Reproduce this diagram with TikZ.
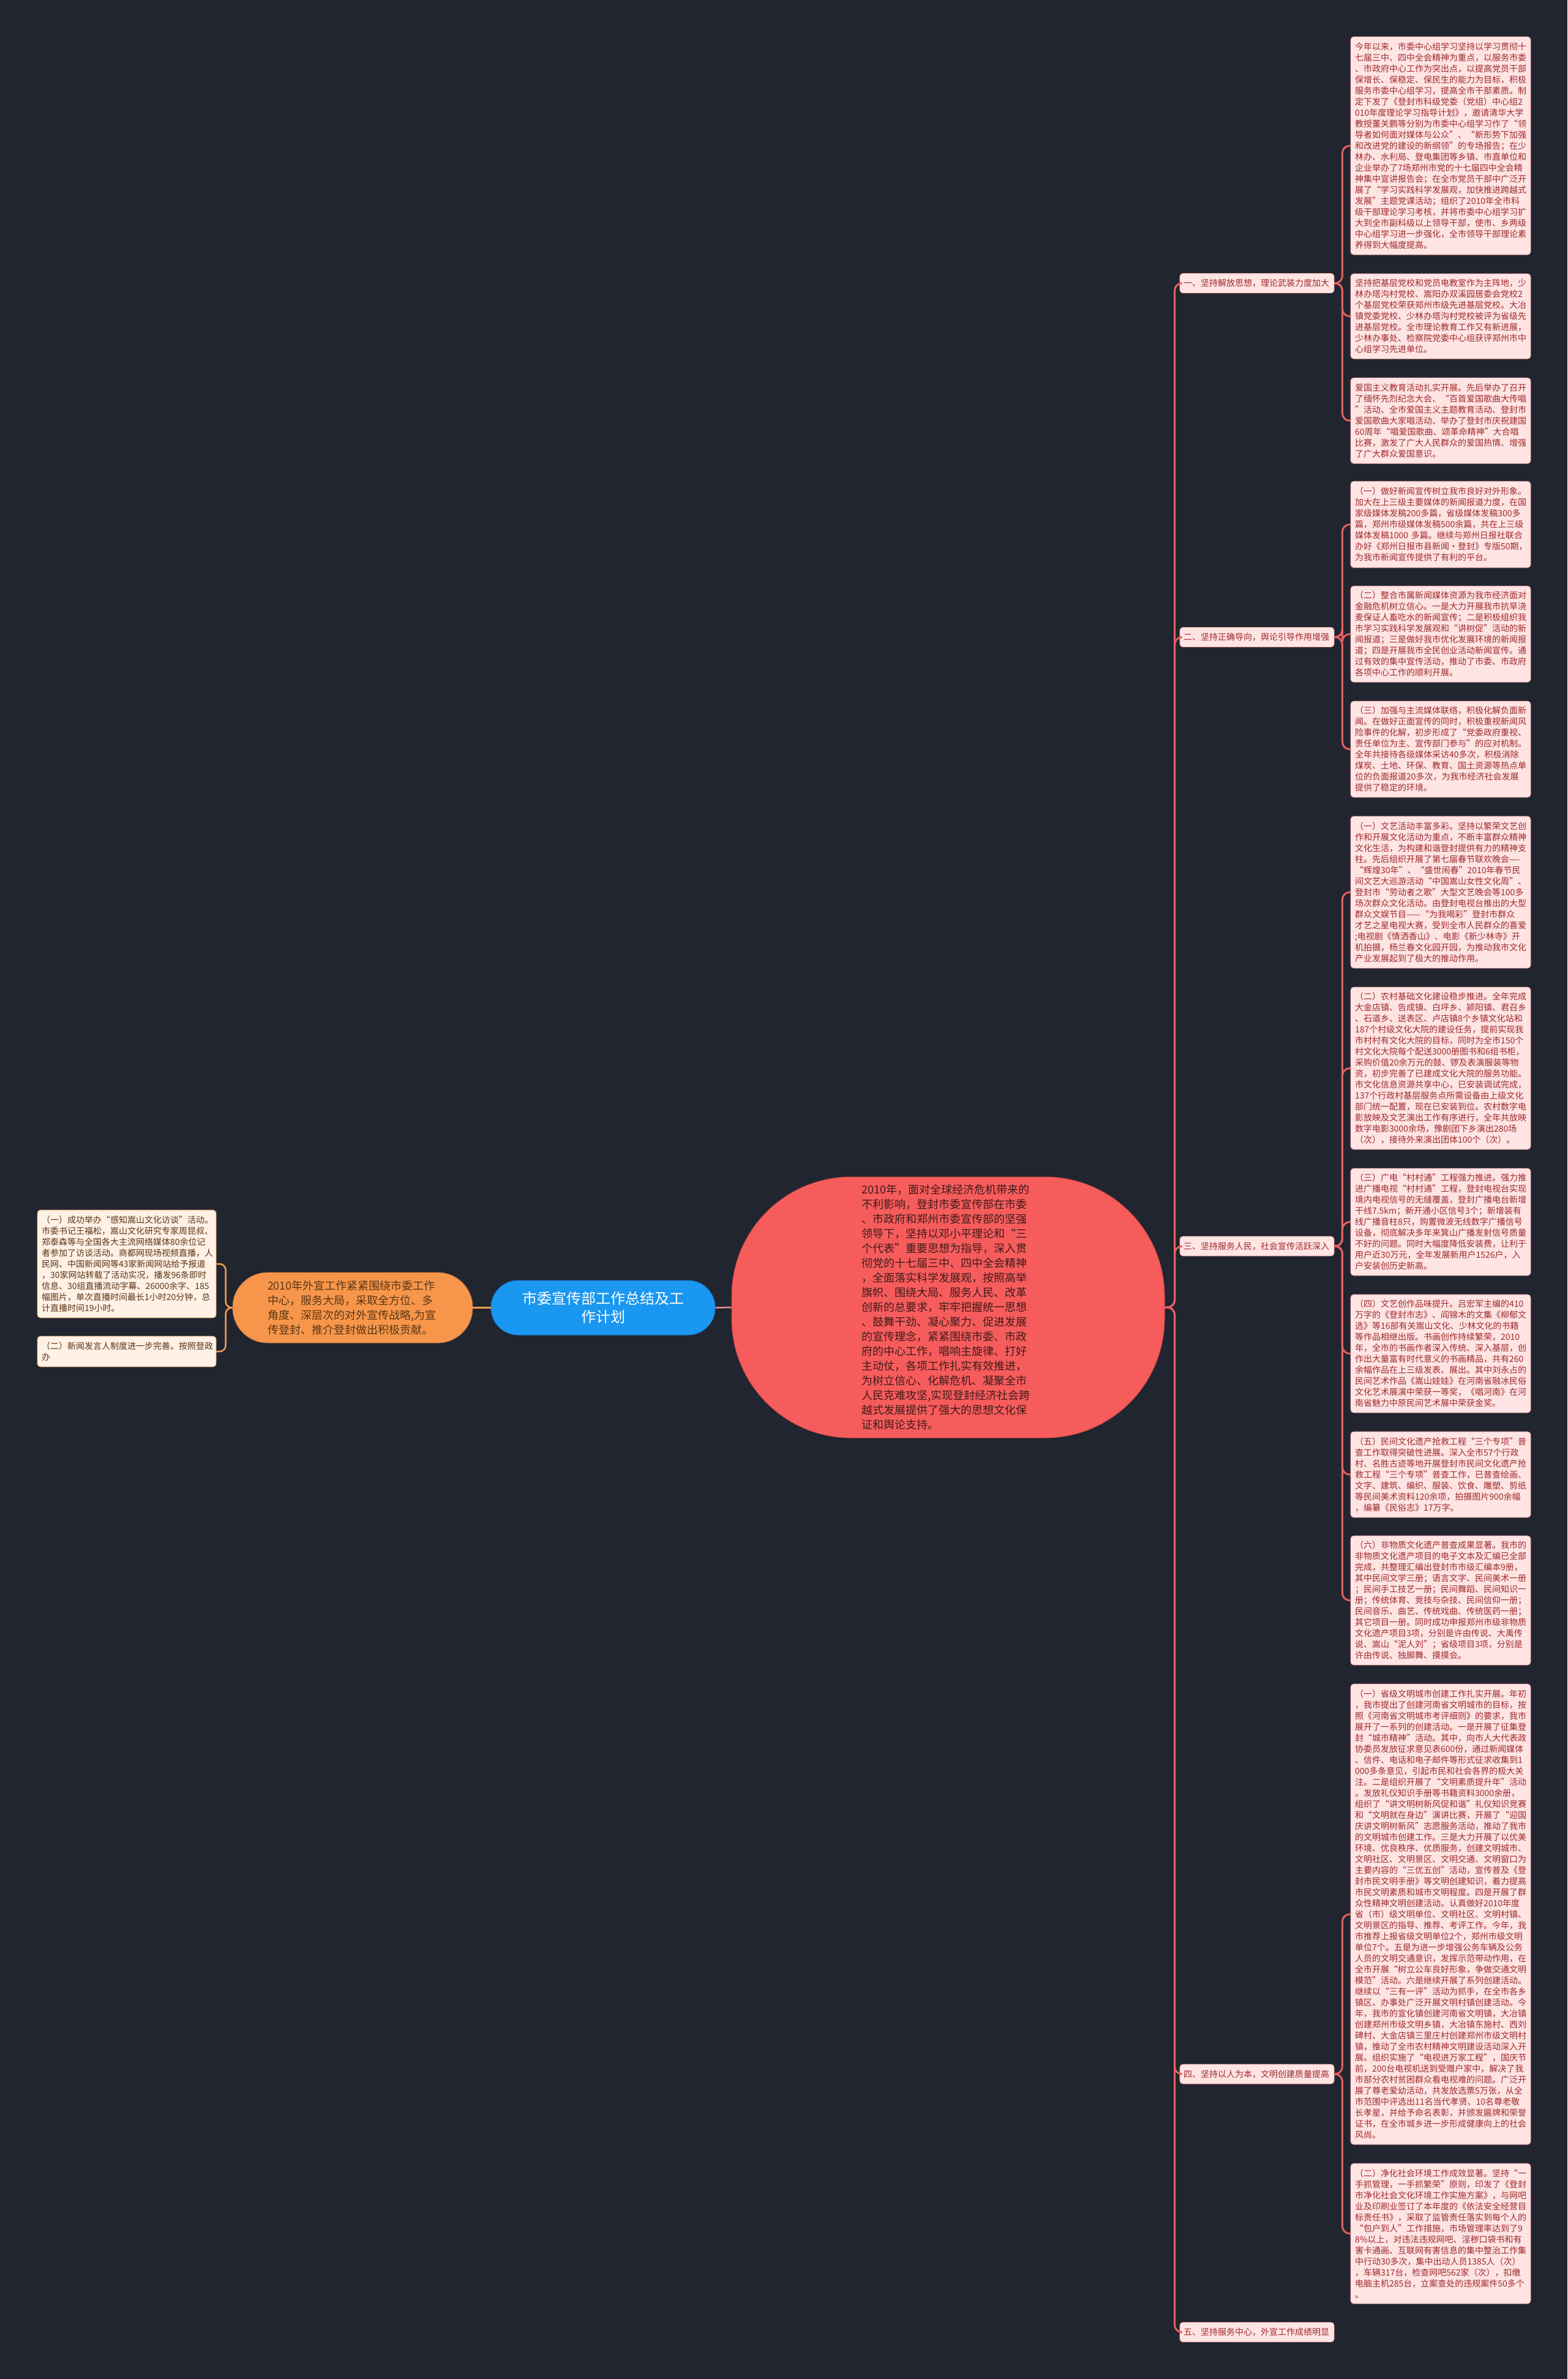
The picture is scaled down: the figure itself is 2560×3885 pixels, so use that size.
\documentclass[tikz,border=0pt]{standalone}
\usepackage{fontspec}
\setmainfont{Noto Sans CJK SC}
\definecolor{bg}{HTML}{21252F}
\definecolor{pinkfill}{HTML}{FFE4E4}
\definecolor{pinkdraw}{HTML}{F2A0A0}
\definecolor{redtext}{HTML}{9E2A2B}
\definecolor{connred}{HTML}{E5605F}
\definecolor{centerfill}{HTML}{F65C5C}
\definecolor{centerdraw}{HTML}{C94848}
\definecolor{centertext}{HTML}{3F1A1A}
\definecolor{bluefill}{HTML}{1A97F0}
\definecolor{bluedraw}{HTML}{1577C8}
\definecolor{orangefill}{HTML}{F7964A}
\definecolor{orangeline}{HTML}{F0A050}
\definecolor{creamfill}{HTML}{FFF1E6}
\definecolor{browntext}{HTML}{5A3515}
\tikzset{
  tbox/.style={draw=pinkdraw, line width=0.8pt, fill=pinkfill, rounded corners=5pt, text=redtext,
    font=\fontsize{14pt}{18pt}\selectfont, text width=280pt, align=left, inner xsep=7pt, inner ysep=6pt},
  lbl/.style={draw=pinkdraw, line width=0.8pt, fill=pinkfill, rounded corners=5pt, text=redtext,
    font=\fontsize{14pt}{18pt}\selectfont, text width=240pt, align=left, inner xsep=6pt, minimum height=32pt},
  lbox/.style={draw=orangeline, line width=0.8pt, fill=creamfill, rounded corners=5pt, text=browntext,
    font=\fontsize{14pt}{18pt}\selectfont, text width=278pt, align=left, inner xsep=7pt, inner ysep=6pt},
  rconn/.style={draw=connred, line width=3pt, rounded corners=12pt},
  oconn/.style={draw=orangeline, line width=2.5pt, rounded corners=10pt},
}
\begin{document}
\begin{tikzpicture}[x=1pt,y=-1pt]
\useasboundingbox (0,0) rectangle (2560,3885);
\fill[bg] (0,0) rectangle (2560,3885);

% center node
\node[draw=centerdraw, line width=1pt, fill=centerfill, rounded corners=195pt, minimum width=707pt, minimum height=426pt,
  text width=282pt, align=left, text=centertext, font=\fontsize{18pt}{24pt}\selectfont] (center) at (1548.5,2135) {%
2010年，面对全球经济危机带来的\\
不利影响，登封市委宣传部在市委\\
、市政府和郑州市委宣传部的坚强\\
领导下，坚持以邓小平理论和“三\\
个代表”重要思想为指导，深入贯\\
彻党的十七届三中、四中全会精神\\
，全面落实科学发展观，按照高举\\
旗帜、围绕大局、服务人民、改革\\
创新的总要求，牢牢把握统一思想\\
、鼓舞干劲、凝心聚力、促进发展\\
的宣传理念，紧紧围绕市委、市政\\
府的中心工作，唱响主旋律、打好\\
主动仗，各项工作扎实有效推进，\\
为树立信心、化解危机、凝聚全市\\
人民克难攻坚,实现登封经济社会跨\\
越式发展提供了强大的思想文化保\\
证和舆论支持。};

% blue node
\node[draw=bluedraw, line width=1pt, fill=bluefill, rounded corners=44pt, minimum width=366pt, minimum height=89pt,
  align=center, text=white, font=\fontsize{24pt}{30pt}\selectfont] (blue) at (985,2135.5) {市委宣传部工作总结及工\\作计划};

% orange node
\node[draw=orangefill!80!black, line width=0.8pt, fill=orangefill, rounded corners=57pt, minimum width=392pt, minimum height=115pt,
  text width=278pt, align=left, text=browntext, font=\fontsize{18pt}{24pt}\selectfont] (orange) at (576,2135.5) {%
2010年外宣工作紧紧围绕市委工作\\
中心，服务大局，采取全方位、多\\
角度、深层次的对外宣传战略,为宣\\
传登封、推介登封做出积极贡献。};

% left boxes
\node[lbox, minimum height=176pt] (lb1) at (207,2064) {%
（一）成功举办“感知嵩山文化访谈”活动。\\
市委书记王福松，嵩山文化研究专家周昆叔、\\
郑泰森等与全国各大主流网络媒体80余位记\\
者参加了访谈活动。商都网现场视频直播，人\\
民网、中国新闻网等43家新闻网站给予报道\\
，30家网站转载了活动实况，播发96条即时\\
信息、30组直播流动字幕、26000余字、185\\
幅图片，单次直播时间最长1小时20分钟，总\\
计直播时间19小时。};
\node[lbox, minimum height=50pt] (lb2) at (207,2207) {%
（二）新闻发言人制度进一步完善。按照登政\\
办};

% branch labels
\node[lbl] (l1) at (2053,462.5) {一、坚持解放思想，理论武装力度加大};
\node[lbl] (l2) at (2053,1040.5) {二、坚持正确导向，舆论引导作用增强};
\node[lbl] (l3) at (2053,2035) {三、坚持服务人民，社会宣传活跃深入};
\node[lbl] (l4) at (2053,3387) {四、坚持以人为本，文明创建质量提高};
\node[lbl] (l5) at (2053,3808.5) {五、坚持服务中心，外宣工作成绩明显};

% right text boxes
\node[tbox, minimum height=356pt] (b1) at (2353,238) {%
今年以来，市委中心组学习坚持以学习贯彻十\\
七届三中、四中全会精神为重点，以服务市委\\
、市政府中心工作为突出点，以提高党员干部\\
保增长、保稳定、保民生的能力为目标，积极\\
服务市委中心组学习，提高全市干部素质。制\\
定下发了《登封市科级党委（党组）中心组2\\
010年度理论学习指导计划》，邀请清华大学\\
教授董关鹏等分别为市委中心组学习作了“领\\
导者如何面对媒体与公众”、“新形势下加强\\
和改进党的建设的新纲领”的专场报告；在少\\
林办、水利局、登电集团等乡镇、市直单位和\\
企业举办了7场郑州市党的十七届四中全会精\\
神集中宣讲报告会；在全市党员干部中广泛开\\
展了“学习实践科学发展观，加快推进跨越式\\
发展”主题党课活动；组织了2010年全市科\\
级干部理论学习考核，并将市委中心组学习扩\\
大到全市副科级以上领导干部，使市、乡两级\\
中心组学习进一步强化，全市领导干部理论素\\
养得到大幅度提高。};

\node[tbox, minimum height=139pt] (b2) at (2353,516.5) {%
坚持把基层党校和党员电教室作为主阵地，少\\
林办塔沟村党校、嵩阳办双溪园居委会党校2\\
个基层党校荣获郑州市级先进基层党校。大冶\\
镇党委党校、少林办塔沟村党校被评为省级先\\
进基层党校。全市理论教育工作又有新进展，\\
少林办事处、检察院党委中心组获评郑州市中\\
心组学习先进单位。};

\node[tbox, minimum height=140pt] (b3) at (2353,687) {%
爱国主义教育活动扎实开展。先后举办了召开\\
了缅怀先烈纪念大会、“百首爱国歌曲大传唱\\
”活动、全市爱国主义主题教育活动、登封市\\
爱国歌曲大家唱活动、举办了登封市庆祝建国\\
60周年“唱爱国歌曲、颂革命精神”大合唱\\
比赛，激发了广大人民群众的爱国热情、增强\\
了广大群众爱国意识。};

\node[tbox, minimum height=141pt] (b4) at (2353,856.5) {%
（一）做好新闻宣传树立我市良好对外形象。\\
加大在上三级主要媒体的新闻报道力度，在国\\
家级媒体发稿200多篇，省级媒体发稿300多\\
篇，郑州市级媒体发稿500余篇，共在上三级\\
媒体发稿1000 多篇。继续与郑州日报社联合\\
办好《郑州日报市县新闻•登封》专版50期，\\
为我市新闻宣传提供了有利的平台。};

\node[tbox, minimum height=157pt] (b5) at (2353,1035.5) {%
（二）整合市属新闻媒体资源为我市经济面对\\
金融危机树立信心。一是大力开展我市抗旱浇\\
麦保证人畜吃水的新闻宣传；二是积极组织我\\
市学习实践科学发展观和“讲树促”活动的新\\
闻报道；三是做好我市优化发展环境的新闻报\\
道；四是开展我市全民创业活动新闻宣传。通\\
过有效的集中宣传活动，推动了市委、市政府\\
各项中心工作的顺利开展。};

\node[tbox, minimum height=157pt] (b6) at (2353,1223.5) {%
（三）加强与主流媒体联络，积极化解负面新\\
闻。在做好正面宣传的同时，积极重视新闻风\\
险事件的化解，初步形成了“党委政府重视、\\
责任单位为主、宣传部门参与”的应对机制。\\
全年共接待各级媒体采访40多次，积极消除\\
煤炭、土地、环保、教育、国土资源等热点单\\
位的负面报道20多次，为我市经济社会发展\\
提供了稳定的环境。};

\node[tbox, minimum height=248pt] (b7) at (2353,1457) {%
（一）文艺活动丰富多彩。坚持以繁荣文艺创\\
作和开展文化活动为重点，不断丰富群众精神\\
文化生活，为构建和谐登封提供有力的精神支\\
柱。先后组织开展了第七届春节联欢晚会----\\
“辉煌30年”、“盛世闹春”2010年春节民\\
间文艺大巡游活动“中国嵩山女性文化周”、\\
登封市“劳动者之歌”大型文艺晚会等100多\\
场次群众文化活动。由登封电视台推出的大型\\
群众文娱节目——“为我喝彩”登封市群众\\
才艺之星电视大赛，受到全市人民群众的喜爱\\
;电视剧《情洒香山》、电影《新少林寺》开\\
机拍摄，杨兰春文化园开园，为推动我市文化\\
产业发展起到了极大的推动作用。};

\node[tbox, minimum height=265pt] (b8) at (2353,1744.5) {%
（二）农村基础文化建设稳步推进。全年完成\\
大金店镇、告成镇、白坪乡、颍阳镇、君召乡\\
、石道乡、送表区、卢店镇8个乡镇文化站和\\
187个村级文化大院的建设任务，提前实现我\\
市村村有文化大院的目标，同时为全市150个\\
村文化大院每个配送3000册图书和6组书柜，\\
采购价值20余万元的鼓、锣及表演服装等物\\
资，初步完善了已建成文化大院的服务功能。\\
市文化信息资源共享中心，已安装调试完成，\\
137个行政村基层服务点所需设备由上级文化\\
部门统一配置，现在已安装到位。农村数字电\\
影放映及文艺演出工作有序进行，全年共放映\\
数字电影3000余场，豫剧团下乡演出280场\\
（次），接待外来演出团体100个（次）。};

\node[tbox, minimum height=175pt] (b9) at (2353,1995.5) {%
（三）广电“村村通”工程强力推进。强力推\\
进广播电视“村村通”工程，登封电视台实现\\
境内电视信号的无缝覆盖，登封广播电台新增\\
干线7.5km；新开通小区信号3个；新增装有\\
线广播音柱8只，购置微波无线数字广播信号\\
设备，彻底解决多年来箕山广播发射信号质量\\
不好的问题。同时大幅度降低安装费，让利于\\
用户近30万元，全年发展新用户1526户，入\\
户安装创历史新高。};

\node[tbox, minimum height=193pt] (b10) at (2353,2210.5) {%
（四）文艺创作品味提升。吕宏军主编的410\\
万字的《登封市志》、阎锦木的文集《柳郁文\\
选》等16部有关嵩山文化、少林文化的书籍\\
等作品相继出版。书画创作持续繁荣，2010\\
年，全市的书画作者深入传统、深入基层，创\\
作出大量富有时代意义的书画精品，共有260\\
余幅作品在上三级发表、展出。其中刘永占的\\
民间艺术作品《嵩山娃娃》在河南省融冰民俗\\
文化艺术展演中荣获一等奖，《唱河南》在河\\
南省魅力中原民间艺术展中荣获金奖。};

\node[tbox, minimum height=140pt] (b11) at (2353,2408) {%
（五）民间文化遗产抢救工程“三个专项”普\\
查工作取得突破性进展。深入全市57个行政\\
村、名胜古迹等地开展登封市民间文化遗产抢\\
救工程“三个专项”普查工作，已普查绘画、\\
文字、建筑、编织、服装、饮食、雕塑、剪纸\\
等民间美术资料120余项，拍摄图片900余幅\\
，编纂《民俗志》17万字。};

\node[tbox, minimum height=211pt] (b12) at (2353,2613.5) {%
（六）非物质文化遗产普查成果显著。我市的\\
非物质文化遗产项目的电子文本及汇编已全部\\
完成，共整理汇编出登封市市级汇编本9册，\\
其中民间文学三册；语言文字、民间美术一册\\
；民间手工技艺一册；民间舞蹈、民间知识一\\
册；传统体育、竞技与杂技、民间信仰一册；\\
民间音乐、曲艺、传统戏曲、传统医药一册；\\
其它项目一册。同时成功申报郑州市级非物质\\
文化遗产项目3项，分别是许由传说、大禹传\\
说、嵩山“泥人刘”；省级项目3项，分别是\\
许由传说、独脚舞、摸摸会。};

\node[tbox, minimum height=752pt] (b13) at (2353,3126) {%
（一）省级文明城市创建工作扎实开展。年初\\
，我市提出了创建河南省文明城市的目标，按\\
照《河南省文明城市考评细则》的要求，我市\\
展开了一系列的创建活动。一是开展了征集登\\
封“城市精神”活动。其中，向市人大代表政\\
协委员发放征求意见表600份，通过新闻媒体\\
、信件、电话和电子邮件等形式征求收集到1\\
000多条意见，引起市民和社会各界的极大关\\
注。二是组织开展了“文明素质提升年”活动\\
。发放礼仪知识手册等书籍资料3000余册，\\
组织了“讲文明树新风促和谐”礼仪知识竞赛\\
和“文明就在身边”演讲比赛，开展了“迎国\\
庆讲文明树新风”志愿服务活动，推动了我市\\
的文明城市创建工作。三是大力开展了以优美\\
环境、优良秩序、优质服务，创建文明城市、\\
文明社区、文明景区、文明交通、文明窗口为\\
主要内容的“三优五创”活动，宣传普及《登\\
封市民文明手册》等文明创建知识，着力提高\\
市民文明素质和城市文明程度。四是开展了群\\
众性精神文明创建活动。认真做好2010年度\\
省（市）级文明单位、文明社区、文明村镇、\\
文明景区的指导、推荐、考评工作。今年，我\\
市推荐上报省级文明单位2个，郑州市级文明\\
单位7个。五是为进一步增强公务车辆及公务\\
人员的文明交通意识，发挥示范带动作用，在\\
全市开展“树立公车良好形象，争做交通文明\\
模范”活动。六是继续开展了系列创建活动。\\
继续以“三有一评”活动为抓手，在全市各乡\\
镇区、办事处广泛开展文明村镇创建活动。今\\
年，我市的宣化镇创建河南省文明镇，大冶镇\\
创建郑州市级文明乡镇，大冶镇东施村、西刘\\
碑村、大金店镇三里庄村创建郑州市级文明村\\
镇，推动了全市农村精神文明建设活动深入开\\
展。组织实施了“电视进万家工程”，国庆节\\
前，200台电视机送到受赠户家中，解决了我\\
市部分农村贫困群众看电视难的问题。广泛开\\
展了尊老爱幼活动，共发放选票5万张，从全\\
市范围中评选出11名当代孝贤、10名尊老敬\\
长孝星，并给予命名表彰，并颁发匾牌和荣誉\\
证书，在全市城乡进一步形成健康向上的社会\\
风尚。};

\node[tbox, minimum height=229pt] (b14) at (2353,3647.5) {%
（二）净化社会环境工作成效显著。坚持“一\\
手抓管理，一手抓繁荣”原则，印发了《登封\\
市净化社会文化环境工作实施方案》，与网吧\\
业及印刷业签订了本年度的《依法安全经营目\\
标责任书》，采取了监管责任落实到每个人的\\
“包户到人”工作措施，市场管理率达到了9\\
8\%以上，对违法违规网吧、淫秽口袋书和有\\
害卡通画、互联网有害信息的集中整治工作集\\
中行动30多次，集中出动人员1385人（次）\\
，车辆317台，检查网吧562家（次），扣缴\\
电脑主机285台，立案查处的违规案件50多个\\
。};

% connectors: center to labels
\foreach \l in {l1,l2,l3,l4,l5}
  \draw[rconn] (center.east) -- ++(16,0) |- (\l.west);
% labels to boxes
\foreach \b in {b1,b2,b3} \draw[rconn] (l1.east) -- ++(13,0) |- (\b.west);
\foreach \b in {b4,b5,b6} \draw[rconn] (l2.east) -- ++(13,0) |- (\b.west);
\foreach \b in {b7,b8,b9,b10,b11,b12} \draw[rconn] (l3.east) -- ++(13,0) |- (\b.west);
\foreach \b in {b13,b14} \draw[rconn] (l4.east) -- ++(13,0) |- (\b.west);
% left side
\draw[draw=connred!70!white, line width=2.5pt] (center.west) -- (blue.east);
\draw[draw=orangeline, line width=3pt] (blue.west) -- (orange.east);
\draw[oconn] (orange.west) -- ++(-11,0) |- (lb1.east);
\draw[oconn] (orange.west) -- ++(-11,0) |- (lb2.east);
\end{tikzpicture}
\end{document}
